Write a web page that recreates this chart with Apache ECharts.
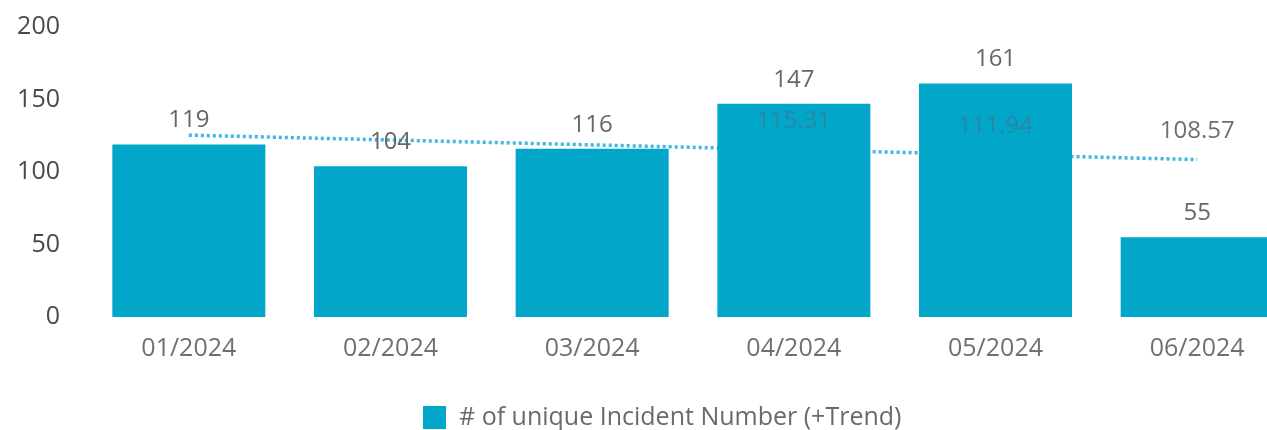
<!DOCTYPE html>
<html>
<head>
<meta charset="utf-8">
<script src="https://cdn.jsdelivr.net/npm/echarts@6/dist/echarts.min.js"></script>
<style>
  html, body { margin: 0; padding: 0; background: #fff; }
  #chart { width: 1267px; height: 430px; }
</style>
</head>
<body>
<div id="chart"></div>
<script>
// Monthly incident counts with a linear trend
const months = ['01/2024', '02/2024', '03/2024', '04/2024', '05/2024', '06/2024'];
const incidents = [119, 104, 116, 147, 161, 55];
const trend = [125.43, 122.06, 118.69, 115.31, 111.94, 108.57];
const yTicks = [0, 50, 100, 150, 200];
const trendLabelShown = [false, false, false, true, true, true];

const seriesName = '# of unique Incident Number (+Trend)';
const font = 'Open Sans, Noto Sans, sans-serif';

const chart = echarts.init(document.getElementById('chart'), null, { renderer: 'canvas' });

// Trend labels sit on top of the bars, so they live in their own series above them
const trendLabelData = trend.map((v, i) => ({
  value: v,
  label: {
    show: trendLabelShown[i],
    color: incidents[i] > v ? '#2a86a4' : '#6f6f6f'
  }
}));

chart.setOption({
  animation: false,
  textStyle: { fontFamily: font },
  // the plot runs past the right edge, so the last bar is clipped by the page
  grid: { left: 88, width: 1210, top: 27, height: 290, outerBoundsMode: 'none' },
  legend: {
    data: [{ name: seriesName, icon: 'rect' }],
    left: 418,
    top: 400,
    itemWidth: 23,
    itemHeight: 23,
    textStyle: { fontSize: 25, color: '#6a6a6a', fontFamily: font, padding: [0, 0, 0, 8] }
  },
  xAxis: {
    type: 'category',
    data: months,
    axisLine: { show: false },
    axisTick: { show: false },
    axisLabel: { fontSize: 25, color: '#707070', margin: 19, fontFamily: font }
  },
  yAxis: {
    type: 'value',
    min: yTicks[0],
    max: yTicks[yTicks.length - 1],
    interval: yTicks[1] - yTicks[0],
    splitLine: { show: false },
    axisLine: { show: false },
    axisTick: { show: false },
    axisLabel: { fontSize: 25, color: '#4a4a4a', margin: 28, fontFamily: font }
  },
  series: [
    {
      name: 'trendLine',
      type: 'line',
      data: trend,
      z: 1,
      symbol: 'none',
      silent: true,
      lineStyle: { color: '#3fb6e3', width: 3.5, type: [3, 3] },
      label: { show: false }
    },
    {
      name: seriesName,
      type: 'bar',
      data: incidents,
      z: 2,
      barWidth: 153,
      itemStyle: { color: '#02a6c9' },
      label: {
        show: true,
        position: 'top',
        distance: 12,
        fontSize: 24,
        color: '#666',
        fontFamily: font
      }
    },
    {
      name: 'trendLabels',
      type: 'line',
      data: trendLabelData,
      z: 3,
      symbol: 'circle',
      symbolSize: 1,
      showSymbol: true,
      silent: true,
      itemStyle: { color: 'rgba(0,0,0,0)', borderWidth: 0 },
      lineStyle: { color: 'rgba(0,0,0,0)', width: 0 },
      label: {
        position: 'top',
        distance: 16,
        fontSize: 24,
        fontFamily: font
      }
    }
  ]
});
</script>
</body>
</html>
